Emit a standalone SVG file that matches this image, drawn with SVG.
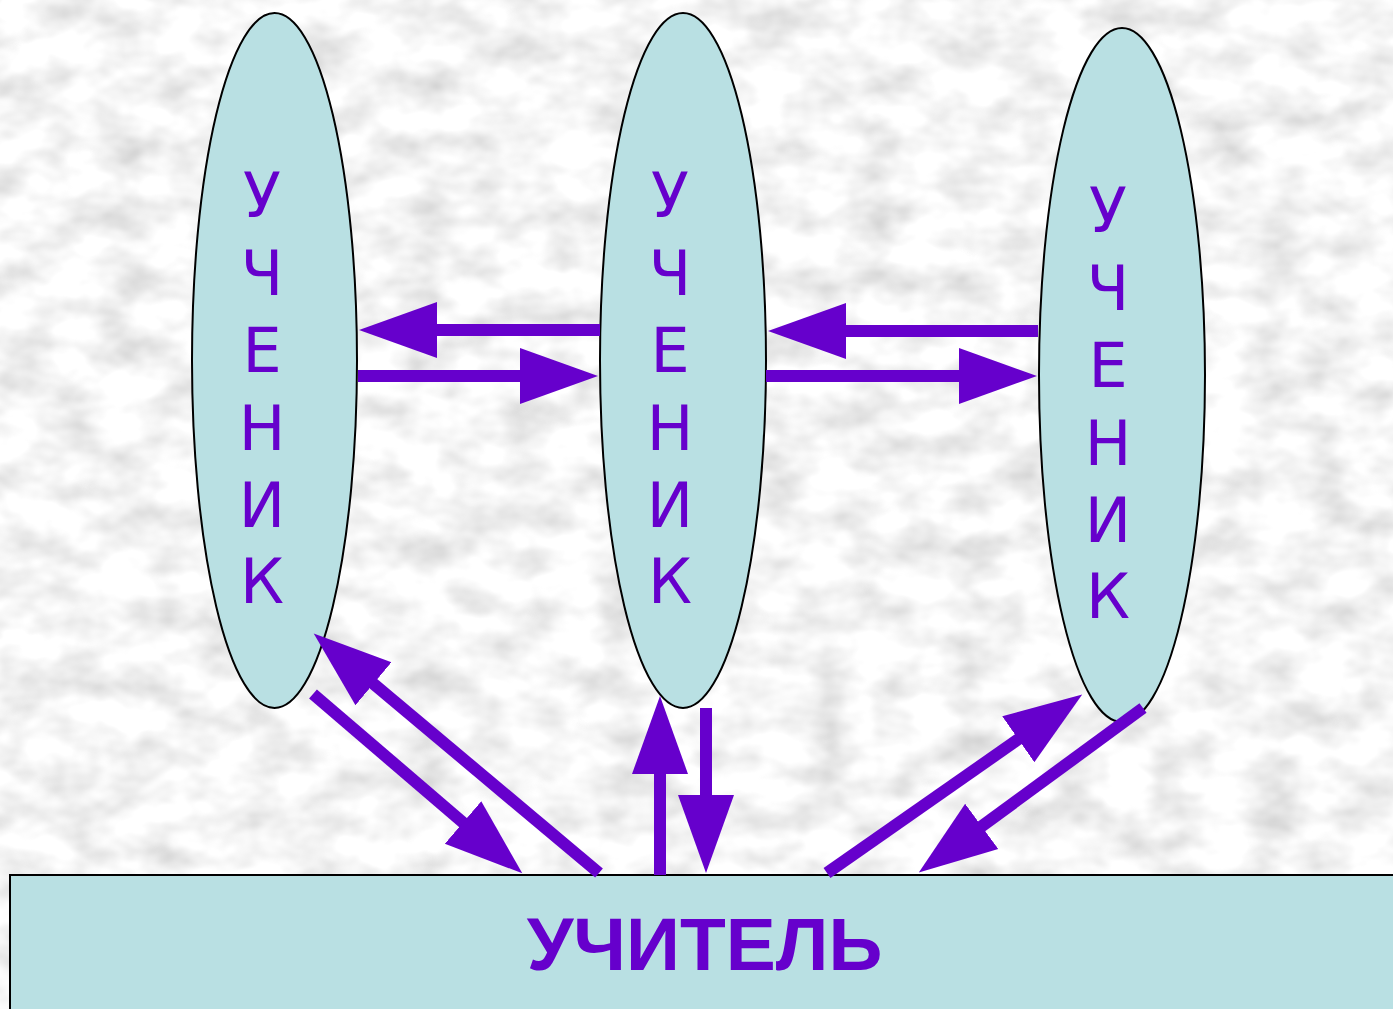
<svg xmlns="http://www.w3.org/2000/svg" width="1393" height="1009" viewBox="0 0 1393 1009">
  <style>
    .node { fill: #b9e0e3; stroke: #000; stroke-width: 2; }
    .letter { font-family: "DejaVu Sans", Verdana, sans-serif; font-size: 62px; fill: #6600cc; text-anchor: middle; }
    .title { font-family: "Liberation Sans", Arial, sans-serif; font-weight: bold; font-size: 75px; fill: #6600cc; text-anchor: middle; }
    .arrow { stroke: #6600cc; stroke-width: 12; fill: none; stroke-linecap: butt; marker-end: url(#head); }
  </style>
  <defs>
    <filter id="marble" x="0" y="0" width="1" height="1" filterUnits="objectBoundingBox">
      <feTurbulence type="fractalNoise" baseFrequency="0.02 0.03" numOctaves="3" seed="11" result="n"/>
      <feColorMatrix in="n" type="matrix" values="0.6 0 0 0 0.62  0.6 0 0 0 0.62  0.6 0 0 0 0.62  0 0 0 0 1"/>
    </filter>
    <marker id="head" viewBox="0 -30 80 60" markerWidth="80" markerHeight="60" refX="1" refY="0" orient="auto" markerUnits="userSpaceOnUse">
      <path d="M0,-28 L78,0 L0,28 Z" fill="#6600cc"/>
    </marker>
  </defs>

  <rect id="background" x="0" y="0" width="1393" height="1009" fill="#ececec" filter="url(#marble)"/>

  <g id="student1">
    <ellipse class="node" cx="274.5" cy="360.5" rx="82.5" ry="347.5"/>
    <text class="letter" x="262" y="217">У</text>
    <text class="letter" x="262" y="295">Ч</text>
    <text class="letter" x="262" y="372">Е</text>
    <text class="letter" x="262" y="450">Н</text>
    <text class="letter" x="262" y="527">И</text>
    <text class="letter" x="262" y="603">К</text>
  </g>

  <g id="student2">
    <ellipse class="node" cx="683" cy="360.5" rx="83" ry="347.5"/>
    <text class="letter" x="670" y="217">У</text>
    <text class="letter" x="670" y="295">Ч</text>
    <text class="letter" x="670" y="372">Е</text>
    <text class="letter" x="670" y="450">Н</text>
    <text class="letter" x="670" y="527">И</text>
    <text class="letter" x="670" y="603">К</text>
  </g>

  <g id="student3">
    <ellipse class="node" cx="1122" cy="375" rx="83" ry="347"/>
    <text class="letter" x="1108" y="232">У</text>
    <text class="letter" x="1108" y="310">Ч</text>
    <text class="letter" x="1108" y="387">Е</text>
    <text class="letter" x="1108" y="465">Н</text>
    <text class="letter" x="1108" y="542">И</text>
    <text class="letter" x="1108" y="618">К</text>
  </g>

  <g id="teacher">
    <rect class="node" x="10" y="875" width="1395" height="150"/>
    <text class="title" x="704.5" y="970">УЧИТЕЛЬ</text>
  </g>

  <g id="connectors">
    <line class="arrow" x1="600" y1="330" x2="436" y2="330"/>
    <line class="arrow" x1="358" y1="376" x2="521" y2="376"/>
    <line class="arrow" x1="1038" y1="331" x2="845" y2="331"/>
    <line class="arrow" x1="766" y1="376" x2="960" y2="376"/>
    <line class="arrow" x1="599" y1="873" x2="372.7" y2="683.1"/>
    <line class="arrow" x1="313" y1="694" x2="463.8" y2="823.2"/>
    <line class="arrow" x1="660" y1="875" x2="660" y2="773"/>
    <line class="arrow" x1="706" y1="708" x2="706" y2="796"/>
    <line class="arrow" x1="827" y1="873" x2="1019.1" y2="738.7"/>
    <line class="arrow" x1="1143" y1="708" x2="980.9" y2="826.9"/>
  </g>
</svg>
